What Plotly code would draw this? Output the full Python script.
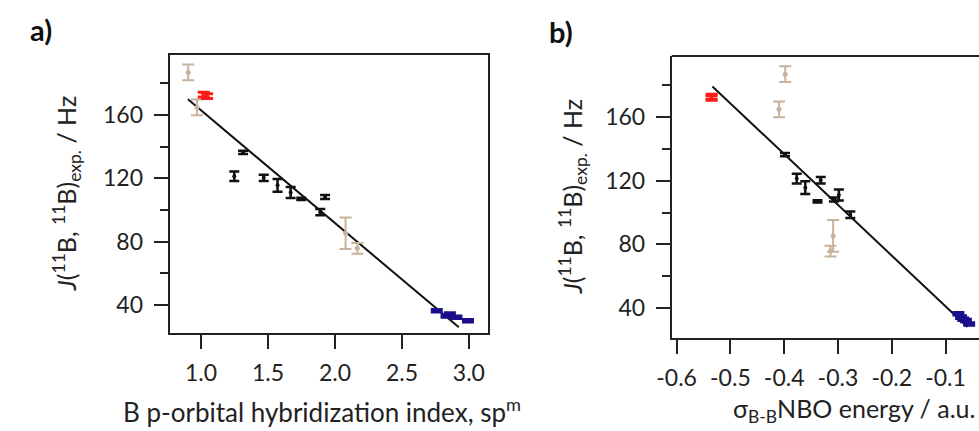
import plotly.graph_objects as go

# ---- measured coupling constants J(11B,11B) / Hz, grouped by compound class ----
J_black = [136.4, 121.3, 120.3, 115.6, 111.0, 107.0, 108.2, 98.6]
err_black = [1.0, 3.0, 2.0, 4.0, 3.5, 0.7, 1.2, 2.0]
hyb_black = [1.314, 1.248, 1.468, 1.571, 1.669, 1.748, 1.926, 1.890]
nbo_black = [-0.3985, -0.3766, -0.332, -0.3607, -0.2983, -0.338, -0.3075, -0.277]

J_tan = [186.9, 164.8, 85.3, 75.8]
err_tan = [5.0, 5.0, 10.0, 3.4]
hyb_tan = [0.904, 0.970, 2.079, 2.167]
nbo_tan = [-0.398, -0.4095, -0.309, -0.314]

J_red = [172.8, 172.0]
err_red = [1.5, 1.5]
hyb_red = [1.02, 1.045]
nbo_red = [-0.535, -0.535]

J_blue = [36.4, 34.3, 33.0, 32.2, 30.0]
err_blue = [0.8, 0.8, 0.8, 0.8, 0.8]
hyb_blue = [2.760, 2.858, 2.833, 2.907, 2.993]
nbo_blue = [-0.076, -0.071, -0.067, -0.062, -0.056]

# linear fits
hyb_fit = [0.902, 2.925]
J_fit_a = [169.9, 25.9]
nbo_fit = [-0.5335, -0.0592]
J_fit_b = [179.2, 28.1]

x_ticks_a = [1.0, 1.5, 2.0, 2.5, 3.0]
x_ticks_b = [-0.6, -0.5, -0.4, -0.3, -0.2, -0.1]
y_ticks = [40, 80, 120, 160]
y_minor = [60, 100, 140, 180]

BLACK = "#111111"
TAN = "#c9b29b"
RED = "#ff1a1a"
BLUE = "#1c0f8c"
FONT = "Lato"
AXC = "#222222"
W, H = 979, 431

fig = go.Figure()


def add_group(x, y, e, color, cap, thick, xa, ya, msize=4):
    fig.add_trace(go.Scatter(
        x=x, y=y, mode="markers", xaxis=xa, yaxis=ya,
        marker=dict(color=color, size=msize),
        error_y=dict(type="data", array=e, visible=True, color=color,
                     thickness=thick, width=cap),
        showlegend=False, hoverinfo="skip"))


for xa, ya, xs in (("x", "y", (hyb_black, hyb_tan, hyb_red, hyb_blue, hyb_fit, J_fit_a)),
                   ("x2", "y2", (nbo_black, nbo_tan, nbo_red, nbo_blue, nbo_fit, J_fit_b))):
    xb, xt, xr, xbl, xf, yf = xs
    fig.add_trace(go.Scatter(x=xf, y=yf, mode="lines", xaxis=xa, yaxis=ya,
                             line=dict(color=BLACK, width=2),
                             showlegend=False, hoverinfo="skip"))
    add_group(xt, J_tan, err_tan, TAN, 6, 2, xa, ya, msize=5)
    add_group(xb, J_black, err_black, BLACK, 5, 2.5, xa, ya)
    add_group(xr, J_red, err_red, RED, 6, 3, xa, ya, msize=3)
    add_group(xbl, J_blue, err_blue, BLUE, 6, 3, xa, ya)

common_axis = dict(showline=True, linecolor=AXC, linewidth=2, ticks="outside",
                   ticklen=14, tickwidth=2, tickcolor=AXC, showgrid=False,
                   zeroline=False, tickfont=dict(family=FONT, size=23, color="#222"))
minor_y = dict(ticks="outside", ticklen=8, tickwidth=2, tickcolor=AXC, tickvals=y_minor)

fig.update_layout(
    width=W, height=H,
    margin=dict(l=0, r=0, t=0, b=0),
    paper_bgcolor="white", plot_bgcolor="white",
    font=dict(family=FONT, color="#222"),
    xaxis=dict(**common_axis, domain=[157 / W, 480 / W], range=[0.765, 3.14],
               tickvals=x_ticks_a, ticktext=[f"{v:.1f}" for v in x_ticks_a],
               mirror=True, anchor="y", ticklabelstandoff=4),
    yaxis=dict(**common_axis, domain=[1 - 333 / H, 1 - 55 / H], range=[22.3, 197.9],
               tickvals=y_ticks, mirror=True, anchor="x", minor=minor_y,
               ticklabelstandoff=6),
    xaxis2=dict(**common_axis, domain=[667 / W, 1.0], range=[-0.609, -0.0377],
                tickvals=x_ticks_b, ticktext=[f"{v:.1f}" for v in x_ticks_b],
                mirror=False, anchor="y2", ticklabelstandoff=4),
    yaxis2=dict(**common_axis, domain=[1 - 338 / H, 1 - 56 / H], range=[21.2, 198.3],
                tickvals=y_ticks, mirror=False, anchor="x2", minor=minor_y,
                ticklabelstandoff=6),
)

# top frame line of panel b (its right side runs past the page edge)
fig.add_shape(type="line", xref="paper", yref="paper",
              x0=667 / W, x1=1.0, y0=1 - 56 / H, y1=1 - 56 / H,
              line=dict(color=AXC, width=2))

ytitle = "<i>J</i>(<sup>11</sup>B, <sup>11</sup>B)<sub>exp.</sub> / Hz"
title_font = dict(family=FONT, size=25, color="#222")


def paper_text(text, px, py, font, angle=0):
    fig.add_annotation(text=text, xref="paper", yref="paper", x=px / W, y=1 - py / H,
                       xanchor="center", yanchor="middle", showarrow=False,
                       textangle=angle, font=font)


paper_text(ytitle, 52, 194, title_font, angle=-90)
paper_text(ytitle, 566, 197, title_font, angle=-90)
paper_text("B p-orbital hybridization index, sp<sup>m</sup>", 312, 410, dict(title_font, size=26))
paper_text("σ<sub>B-B</sub>NBO energy / a.u.", 852, 410, title_font)

bold = dict(family=FONT, size=29, color="#111")
paper_text("<b>a)</b>", 26, 29, bold)
paper_text("<b>b)</b>", 555, 31, bold)

fig.write_html("out.html")
